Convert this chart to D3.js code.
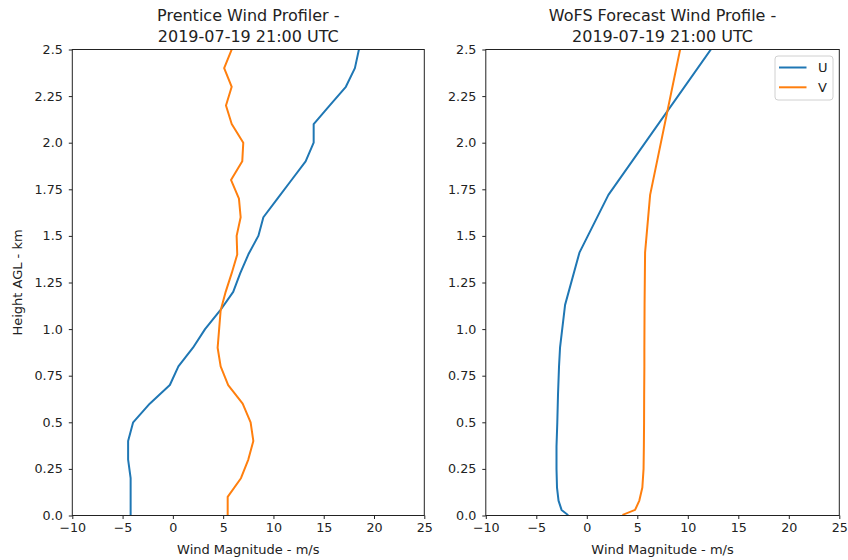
<!DOCTYPE html>
<html>
<head>
<meta charset="utf-8">
<script src="https://cdn.jsdelivr.net/npm/d3@7"></script>
<style>
  body { margin: 0; background: #fff; }
  text { font-family: "DejaVu Sans", sans-serif; fill: #222; }
</style>
</head>
<body>
<div id="chart"></div>
<script>
// donnees
const heightsProfiler = [0.0, 0.1, 0.2, 0.3, 0.4, 0.5, 0.6, 0.7, 0.8, 0.9, 1.0, 1.1, 1.2,
  1.3, 1.4, 1.5, 1.6, 1.7, 1.8, 1.9, 2.0, 2.1, 2.2, 2.3, 2.4, 2.5];
const uProfiler = [-4.2, -4.2, -4.2, -4.45, -4.45, -3.95, -2.3, -0.3, 0.55, 2.0, 3.2, 4.7, 6.0,
  6.7, 7.5, 8.5, 9.0, 10.4, 11.8, 13.2, 14.0, 14.0, 15.6, 17.2, 18.1, 18.5];
const vProfiler = [5.45, 5.45, 6.77, 7.5, 8.0, 7.73, 6.94, 5.5, 4.75, 4.45, 4.6, 4.75, 5.25,
  5.85, 6.4, 6.34, 6.74, 6.57, 5.78, 6.9, 7.0, 5.85, 5.28, 5.85, 5.1, 5.85];

const heightsWofs = [0.005, 0.03, 0.08, 0.15, 0.25, 0.37, 0.5, 0.65, 0.8, 0.9, 1.13, 1.41, 1.72, 2.5];
const uWofs = [-1.92, -2.5, -2.8, -2.95, -3.0, -3.0, -2.92, -2.85, -2.75, -2.65, -2.15, -0.73, 2.14, 12.28];
const vWofs = [3.62, 4.78, 5.2, 5.5, 5.62, 5.65, 5.67, 5.68, 5.7, 5.7, 5.72, 5.77, 6.27, 9.24];

const xTicks = [-10, -5, 0, 5, 10, 15, 20, 25];
const yTicks = [0, 0.25, 0.5, 0.75, 1.0, 1.25, 1.5, 1.75, 2.0, 2.25, 2.5];
const yTickLabels = ["0.0", "0.25", "0.5", "0.75", "1.0", "1.25", "1.5", "1.75", "2.0", "2.25", "2.5"];
const seriesNames = ["U", "V"];
const colors = ["#1f77b4", "#ff7f0e"];

const W = 848, H = 560;
const yTop = 49.5, yBottom = 515.5;

const svg = d3.select("#chart").append("svg")
  .attr("width", W).attr("height", H);

const panels = [
  { left: 72.3, right: 424.3, title: ["Prentice Wind Profiler -", "2019-07-19 21:00 UTC"],
    h: heightsProfiler, u: uProfiler, v: vProfiler, ylabel: true, legend: false },
  { left: 485.8, right: 839.3, title: ["WoFS Forecast Wind Profile -", "2019-07-19 21:00 UTC"],
    h: heightsWofs, u: uWofs, v: vWofs, ylabel: false, legend: true }
];

panels.forEach((p, i) => {
  const x = d3.scaleLinear().domain([-10, 25]).range([p.left, p.right]);
  const y = d3.scaleLinear().domain([0, 2.5]).range([yBottom, yTop]);

  const g = svg.append("g");

  g.append("clipPath").attr("id", "clip" + i)
    .append("rect")
    .attr("x", p.left).attr("y", yTop)
    .attr("width", p.right - p.left).attr("height", yBottom - yTop);

  // lignes U et V
  [p.u, p.v].forEach((vals, k) => {
    const line = d3.line()
      .x((d, j) => x(d))
      .y((d, j) => y(p.h[j]));
    g.append("path")
      .attr("clip-path", `url(#clip${i})`)
      .attr("d", line(vals))
      .attr("fill", "none")
      .attr("stroke", colors[k])
      .attr("stroke-width", 2)
      .attr("stroke-linejoin", "round")
      .attr("stroke-linecap", "square");
  });

  // axes
  const ax = g.append("g")
    .attr("transform", `translate(0,${yBottom})`)
    .call(d3.axisBottom(x).tickValues(xTicks).tickSize(3.5).tickPadding(3.5)
      .tickFormat(d => d < 0 ? "\u2212" + Math.abs(d) : d));
  const ay = g.append("g")
    .attr("transform", `translate(${p.left},0)`)
    .call(d3.axisLeft(y).tickValues(yTicks).tickSize(3.5).tickPadding(6)
      .tickFormat((d, j) => yTickLabels[j]));
  [ax, ay].forEach(a => {
    a.select(".domain").remove();
    a.selectAll("line").attr("stroke", "#222").attr("stroke-width", 1);
    a.selectAll("text").style("font-size", "12.7px").attr("fill", "#222");
  });

  // cadre
  g.append("rect")
    .attr("x", p.left).attr("y", yTop)
    .attr("width", p.right - p.left).attr("height", yBottom - yTop)
    .attr("fill", "none").attr("stroke", "#222").attr("stroke-width", 1);

  // titre
  const cx = (p.left + p.right) / 2;
  g.append("text").attr("x", cx).attr("y", 21)
    .attr("text-anchor", "middle").style("font-size", "16px").text(p.title[0]);
  g.append("text").attr("x", cx).attr("y", 41.5)
    .attr("text-anchor", "middle").style("font-size", "16px").text(p.title[1]);

  g.append("text").attr("x", cx).attr("y", 553.5)
    .attr("text-anchor", "middle").style("font-size", "13px").text("Wind Magnitude - m/s");

  if (p.ylabel) {
    g.append("text")
      .attr("transform", `translate(22,${(yTop + yBottom) / 2}) rotate(-90)`)
      .attr("text-anchor", "middle").style("font-size", "13px").text("Height AGL - km");
  }

  if (p.legend) {
    const lg = g.append("g");
    lg.append("rect")
      .attr("x", 775).attr("y", 56).attr("width", 58).attr("height", 44)
      .attr("rx", 3).attr("fill", "#fff").attr("fill-opacity", 0.8)
      .attr("stroke", "#d0d0d0").attr("stroke-width", 1);
    seriesNames.forEach((name, k) => {
      const yy = 67.5 + k * 19.8;
      lg.append("line")
        .attr("x1", 779).attr("x2", 806.5).attr("y1", yy).attr("y2", yy)
        .attr("stroke", colors[k]).attr("stroke-width", 2);
      lg.append("text").attr("x", 818).attr("y", yy + 4.5)
        .style("font-size", "13px").text(name);
    });
  }
});
</script>
</body>
</html>
